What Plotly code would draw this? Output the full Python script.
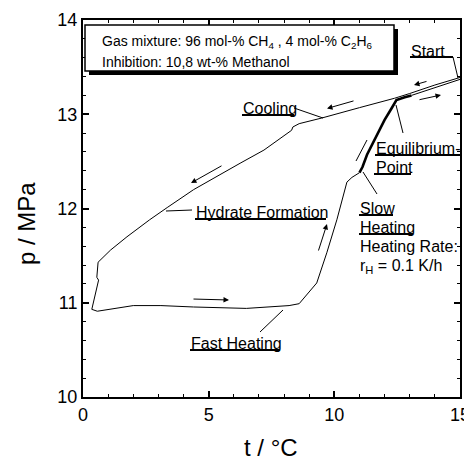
import plotly.graph_objects as go

# ---- data (t in °C, p in MPa) ----
cooling_t = [15.0, 14.0, 13.0, 12.4, 11.0, 10.2, 9.5, 8.6, 8.35, 8.3, 7.2, 6.25, 5.25, 4.4,
             3.35, 2.65, 1.75, 1.1, 0.6, 0.55, 0.62, 0.5, 0.35]
cooling_p = [13.39, 13.31, 13.22, 13.17, 13.07, 13.01, 12.96, 12.90, 12.865, 12.83, 12.62, 12.48,
             12.33, 12.20, 12.01, 11.88, 11.70, 11.56, 11.43, 11.27, 11.24, 11.10, 10.93]

fast_t = [0.35, 0.57, 2.0, 3.1, 4.4, 6.5, 8.2, 8.6, 9.3, 9.7, 10.1, 10.5, 10.7, 11.0]
fast_p = [10.93, 10.91, 10.97, 10.97, 10.955, 10.94, 10.97, 10.99, 11.21, 11.53, 11.88, 12.28,
          12.33, 12.38]

slow_t = [11.0, 11.12, 11.3, 11.52, 11.75, 12.0, 12.25, 12.47, 12.8, 13.07]
slow_p = [12.38, 12.44, 12.57, 12.69, 12.82, 12.94, 13.05, 13.15, 13.18, 13.20]

return_t = [13.07, 14.0, 15.0]
return_p = [13.20, 13.285, 13.37]

x_ticks = [0, 5, 10, 15]
y_ticks = [10, 11, 12, 13, 14]

FONT = "Liberation Sans, Arial, sans-serif"

# pixel (reference picture) -> data helpers for layout decorations only
X0, X1, Y0, Y1 = 83.0, 460.0, 20.0, 397.0
def X(px):
    return (px - X0) / (X1 - X0) * 15.0
def Y(py):
    return 14.0 - (py - Y0) / (Y1 - Y0) * 4.0

fig = go.Figure()
line = dict(color="black", width=1)
fig.add_trace(go.Scatter(x=cooling_t, y=cooling_p, mode="lines", line=line, hoverinfo="skip"))
fig.add_trace(go.Scatter(x=fast_t, y=fast_p, mode="lines", line=line, hoverinfo="skip"))
fig.add_trace(go.Scatter(x=slow_t, y=slow_p, mode="lines", line=dict(color="black", width=2.6), hoverinfo="skip"))
fig.add_trace(go.Scatter(x=return_t, y=return_p, mode="lines", line=line, hoverinfo="skip"))

shapes = []
# text box with shadow
shapes.append(dict(type="rect", xref="x", yref="y", x0=X(89), x1=X(398), y0=Y(29), y1=Y(75),
                   fillcolor="black", line=dict(width=0)))
shapes.append(dict(type="rect", xref="x", yref="y", x0=X(85), x1=X(394), y0=Y(25), y1=Y(71),
                   fillcolor="white", line=dict(color="black", width=1.5)))

def seg(x0, y0, x1, y1, w=1):
    shapes.append(dict(type="line", xref="x", yref="y", x0=X(x0), y0=Y(y0), x1=X(x1), y1=Y(y1),
                       line=dict(color="black", width=w)))

# underlines
seg(410, 57, 453, 57, 2)       # Start
seg(242, 115, 294, 115, 2)     # Cooling
seg(375, 155, 460, 155, 2)     # Equilibrium-
seg(374, 174, 411, 174, 2)     # Point
seg(359, 215, 393, 215, 2)     # Slow
seg(359, 234, 413, 234, 2)     # Heating
seg(195, 219, 326, 219, 2)     # Hydrate Formation
seg(190, 350, 280, 350, 2)     # Fast Heating
# leader lines
seg(453, 57, 458, 78)
seg(294, 108, 323, 118)
seg(403, 133, 396, 105)
seg(377, 194, 363, 172)
seg(192, 210, 166, 211)
seg(260, 332, 283, 310)
seg(356, 161, 367, 140)

annotations = []
def label(text, px, py, size=16, xanchor="left"):
    annotations.append(dict(text=text, x=X(px), y=Y(py), xref="x", yref="y", showarrow=False,
                            xanchor=xanchor, yanchor="middle",
                            font=dict(family=FONT, size=size, color="black")))

label("Gas mixture: 96 mol-% CH<sub>4</sub> , 4 mol-% C<sub>2</sub>H<sub>6</sub>", 100, 42, 14)
label("Inhibition: 10,8 wt-% Methanol", 100, 62, 14)
label("Start", 409, 51)
label("Cooling", 241, 108)
label("Equilibrium-", 374, 148)
label("Point", 374, 167)
label("Slow", 358, 208)
label("Heating", 358, 227)
label("Heating Rate:", 358, 246)
label("r<sub>H</sub> = 0.1 K/h", 358, 266)
label("Hydrate Formation", 194, 212)
label("Fast Heating", 189, 343)

def arrow(tx, ty, hx, hy):
    annotations.append(dict(x=X(hx), y=Y(hy), ax=X(tx), ay=Y(ty), xref="x", yref="y",
                            axref="x", ayref="y", text="", showarrow=True, arrowhead=2,
                            arrowsize=1.1, arrowwidth=1, arrowcolor="black"))

arrow(428, 81, 414, 85)
arrow(418, 100, 441, 95)
arrow(355, 100.5, 327, 108.5)
arrow(223, 165, 191, 183)
arrow(192, 299, 229, 300)
arrow(318, 252, 327, 224)

# axis titles
annotations.append(dict(text="p / MPa", xref="paper", yref="paper", x=(26 - X0) / (X1 - X0),
                        y=(Y1 - 224) / (Y1 - Y0), showarrow=False, textangle=-90,
                        xanchor="center", yanchor="middle",
                        font=dict(family=FONT, size=24, color="black")))
annotations.append(dict(text="t / °C", xref="paper", yref="paper", x=(271 - X0) / (X1 - X0),
                        y=(Y1 - 447) / (Y1 - Y0), showarrow=False,
                        xanchor="center", yanchor="middle",
                        font=dict(family=FONT, size=24, color="black")))

axis_common = dict(showline=True, linecolor="black", linewidth=2, mirror="allticks",
                   ticks="inside", ticklen=6, tickwidth=1.5, tickcolor="black",
                   showgrid=False, zeroline=False, automargin=False,
                   tickfont=dict(family=FONT, size=18, color="black"))

# page body has an 8px default margin: figure is 8px smaller and offset
fig.update_layout(
    template="none",
    width=464, height=453,
    margin=dict(l=75, r=12, t=12, b=64, pad=0),
    paper_bgcolor="white", plot_bgcolor="white",
    showlegend=False,
    shapes=shapes, annotations=annotations,
    xaxis=dict(range=[0, 15], tickvals=x_ticks, ticktext=[str(v) for v in x_ticks],
               minor=dict(dtick=1, ticklen=3, tickwidth=1.2, tickcolor="black", ticks="inside"),
               **axis_common),
    yaxis=dict(range=[10, 14], tickvals=y_ticks, ticktext=[str(v) for v in y_ticks],
               minor=dict(dtick=0.2, ticklen=3, tickwidth=1.2, tickcolor="black", ticks="inside"),
               **axis_common),
)

fig.write_html("out.html")
